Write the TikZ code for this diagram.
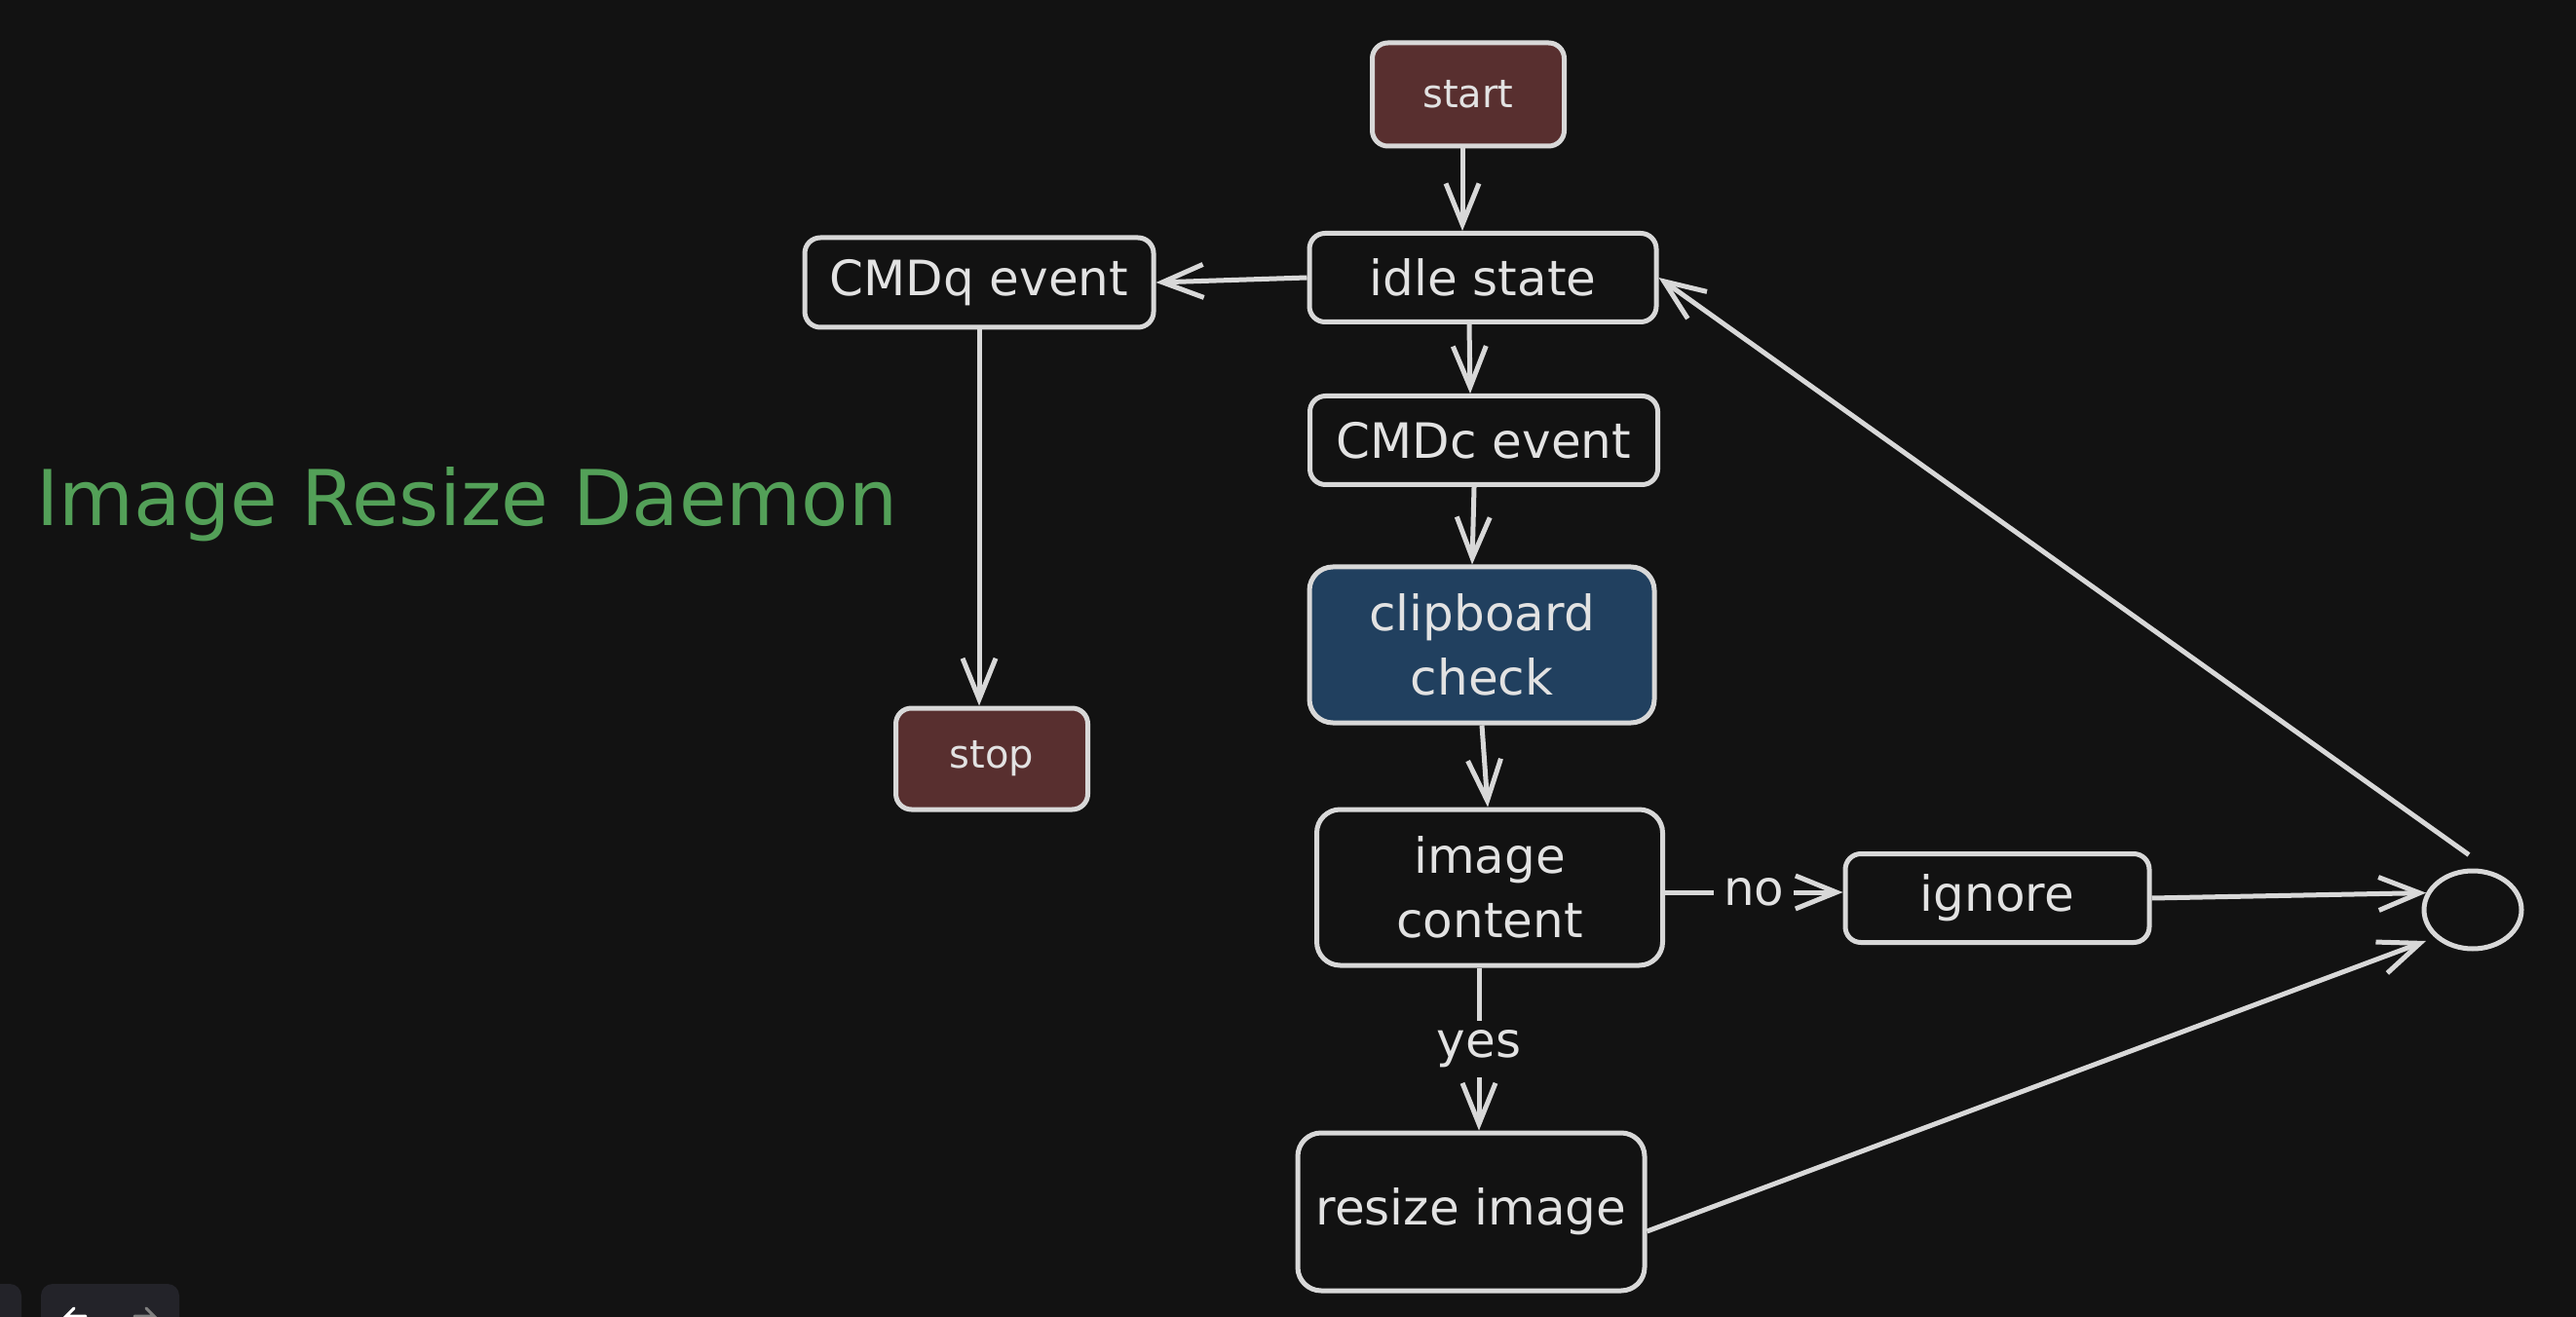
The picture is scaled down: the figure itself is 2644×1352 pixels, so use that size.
\documentclass[tikz,border=0pt]{standalone}
\usepackage{fontspec}
\setmainfont{DejaVu Sans}
\usetikzlibrary{arrows.meta,shapes.geometric}
\definecolor{bg}{HTML}{121212}
\definecolor{ink}{HTML}{D8D8D8}
\definecolor{txt}{HTML}{E2E2E2}
\definecolor{redfill}{HTML}{582F2F}
\definecolor{bluefill}{HTML}{21405F}
\definecolor{titlegreen}{HTML}{53A058}
\definecolor{toolbar}{HTML}{232329}
\begin{document}
\begin{tikzpicture}[x=0.5pt,y=-0.5pt,
  box/.style={draw=ink, line width=2.5pt, rounded corners=8pt, text=txt,
    font=\fontsize{25}{33}\selectfont, align=center, inner sep=0pt},
  smallbox/.style={box, fill=redfill, font=\fontsize{20}{24}\selectfont},
  bigbox/.style={box, rounded corners=12pt},
  conn/.style={draw=ink, line width=2.5pt, -{Straight Barb[length=21pt,width=17pt,line width=2.5pt]}},
  lbl/.style={text=txt, font=\fontsize{25}{30}\selectfont, fill=bg, inner sep=5pt}
]
\useasboundingbox (0,0) rectangle (2644,1352);
\clip (0,0) rectangle (2644,1352);
\fill[bg] (0,0) rectangle (2644,1352);

% toolbar remnants
\fill[toolbar, rounded corners=6pt] (-40,1318) rectangle (22,1400);
\fill[toolbar, rounded corners=6pt] (42,1318) rectangle (184,1400);
\draw[white, line width=1.5pt, line cap=round] (76,1343) -- (68,1351) -- (88,1351);
\draw[gray, line width=1.5pt, line cap=round] (150,1343) -- (158,1351) -- (138,1351);

% title
\node[anchor=base west, text=titlegreen, font=\fontsize{39.5}{42}\selectfont, inner sep=0pt] (title) at (37,539) {Image Resize Daemon};

% nodes
\node[smallbox, minimum width=98.5pt, minimum height=53pt] (start) at (1507,97) {start};
\node[box, minimum width=178pt, minimum height=45.5pt] (idle) at (1522,285) {idle state};
\node[box, minimum width=179pt, minimum height=46pt] (cmdq) at (1005,290) {CMDq event};
\node[box, minimum width=178.5pt, minimum height=45.5pt] (cmdc) at (1523,452) {CMDc event};
\node[bigbox, fill=bluefill, minimum width=177pt, minimum height=80pt] (clip) at (1521,662) {clipboard\\check};
\node[bigbox, minimum width=177.5pt, minimum height=80pt] (img) at (1529,911) {image\\content};
\node[box, minimum width=156pt, minimum height=45.5pt] (ignore) at (2050,922) {ignore};
\node[bigbox, minimum width=178pt, minimum height=81pt] (resize) at (1510,1244) {resize image};
\node[smallbox, minimum width=98.5pt, minimum height=52pt] (stop) at (1018,779) {stop};
\node[draw=ink, line width=2.5pt, ellipse, minimum width=50pt, minimum height=40pt, inner sep=0pt] (merge) at (2538,934) {};

% connectors
\draw[conn] ([xshift=-3pt]start.south) -- ([xshift=-3pt]start.south |- idle.north);
\draw[conn] (idle.west) -- (cmdq.east);
\draw[conn] ([xshift=-7pt]idle.south) -- ([xshift=-7pt]cmdc.north);
\draw[conn] ([xshift=-5pt]cmdc.south) -- ([xshift=-5pt]clip.north);
\draw[conn] (clip.south) -- ([xshift=-1pt]img.north);
\draw[conn] ([yshift=-2.5pt]img.east) -- node[lbl] (nolbl) {no} ([yshift=3pt]ignore.west);
\draw[conn] ([xshift=-5.5pt]img.south) -- node[lbl] (yeslbl) {yes} ([xshift=4pt]resize.north);
\draw[conn] (ignore.east) -- (merge.160);
\draw[conn] ([yshift=-10pt]resize.east) -- ([shift={(-24pt,-16pt)}]merge.center);
\draw[conn] ([shift={(-2pt,7pt)}]merge.north) -- (idle.east);
\draw[conn] (cmdq.south) -- (cmdq.south |- stop.north);
\end{tikzpicture}
\end{document}
